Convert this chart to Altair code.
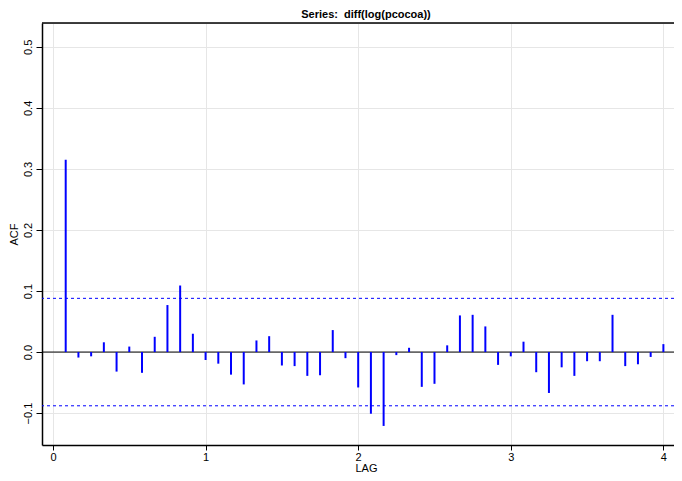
import altair as alt
import pandas as pd

lags_k = list(range(1, 49))
acf = [0.315, -0.009, -0.007, 0.016, -0.032, 0.009, -0.034, 0.025, 0.077, 0.109,
       0.030, -0.013, -0.019, -0.037, -0.053, 0.019, 0.026, -0.022, -0.023, -0.039,
       -0.038, 0.036, -0.010, -0.058, -0.101, -0.121, -0.005, 0.007, -0.057, -0.052,
       0.011, 0.060, 0.061, 0.042, -0.021, -0.007, 0.017, -0.033, -0.067, -0.025,
       -0.039, -0.015, -0.015, 0.061, -0.023, -0.020, -0.008, 0.013]
conf = 0.088
x_ticks = [0, 1, 2, 3, 4]
y_ticks = [-0.1, 0.0, 0.1, 0.2, 0.3, 0.4, 0.5]

df = pd.DataFrame({"lag": [k / 12 for k in lags_k], "acf": acf, "zero": 0.0})
conf_df = pd.DataFrame({"y": [conf, -conf]})
zero_df = pd.DataFrame({"y": [0.0]})

W, H = 632, 422
xdom = [-0.072, -0.072 + W / 152.6]
ydom = [0.539 - H / 610.5, 0.539]
FONT = "Liberation Sans"

xscale = alt.Scale(domain=xdom, nice=False, zero=False)
yscale = alt.Scale(domain=ydom, nice=False, zero=False)

xaxis = alt.Axis(values=x_ticks, title="LAG", grid=True, gridColor="#e6e6e6",
                 domainColor="black", domainWidth=1.5, tickColor="black", tickSize=5,
                 labelFontSize=11, titleFontSize=11, labelFont=FONT, titleFont=FONT,
                 labelColor="black", titleColor="black", titleFontWeight="normal",
                 labelPadding=1, format="d", titleX=324, titleY=26,
                 titleBaseline="alphabetic")
yaxis = alt.Axis(values=y_ticks, title="ACF", grid=True, gridColor="#e6e6e6",
                 domainColor="black", domainWidth=1.5, tickColor="black", tickSize=6,
                 labelFontSize=11, titleFontSize=11, labelFont=FONT, titleFont=FONT,
                 labelColor="black", titleColor="black", titleFontWeight="normal",
                 labelAngle=270, labelAlign="center", labelBaseline="bottom",
                 labelPadding=3, titlePadding=3, format=".1f")

bars = alt.Chart(df).mark_rule(color="#0000ff", strokeWidth=2).encode(
    x=alt.X("lag:Q", scale=xscale, axis=xaxis),
    y=alt.Y("zero:Q", scale=yscale, axis=yaxis),
    y2="acf:Q",
)

zero_line = alt.Chart(zero_df).mark_rule(color="black", strokeWidth=1).encode(
    y=alt.Y("y:Q", scale=yscale)
)

conf_lines = alt.Chart(conf_df).mark_rule(color="#0000ff", strokeWidth=1,
                                          strokeDash=[3, 3]).encode(
    y=alt.Y("y:Q", scale=yscale)
)

top_border = alt.Chart(zero_df).mark_rule(color="black", strokeWidth=1.5).encode(
    x=alt.value(0), x2=alt.value(W), y=alt.value(0)
)

chart = alt.layer(zero_line, conf_lines, bars, top_border).properties(
    width=W, height=H,
    title=alt.Title("Series:\u00a0 diff(log(pcocoa))", fontSize=11, font=FONT,
                    fontWeight="bold", color="black", anchor="middle",
                    offset=2, dx=8),
    autosize=alt.AutoSizeParams(type="none"),
    padding={"left": 34, "top": 15, "right": 0, "bottom": 28},
).configure_view(stroke=None).configure(background="white")

chart.save("out.html", embed_options={"renderer": "svg", "actions": False})
